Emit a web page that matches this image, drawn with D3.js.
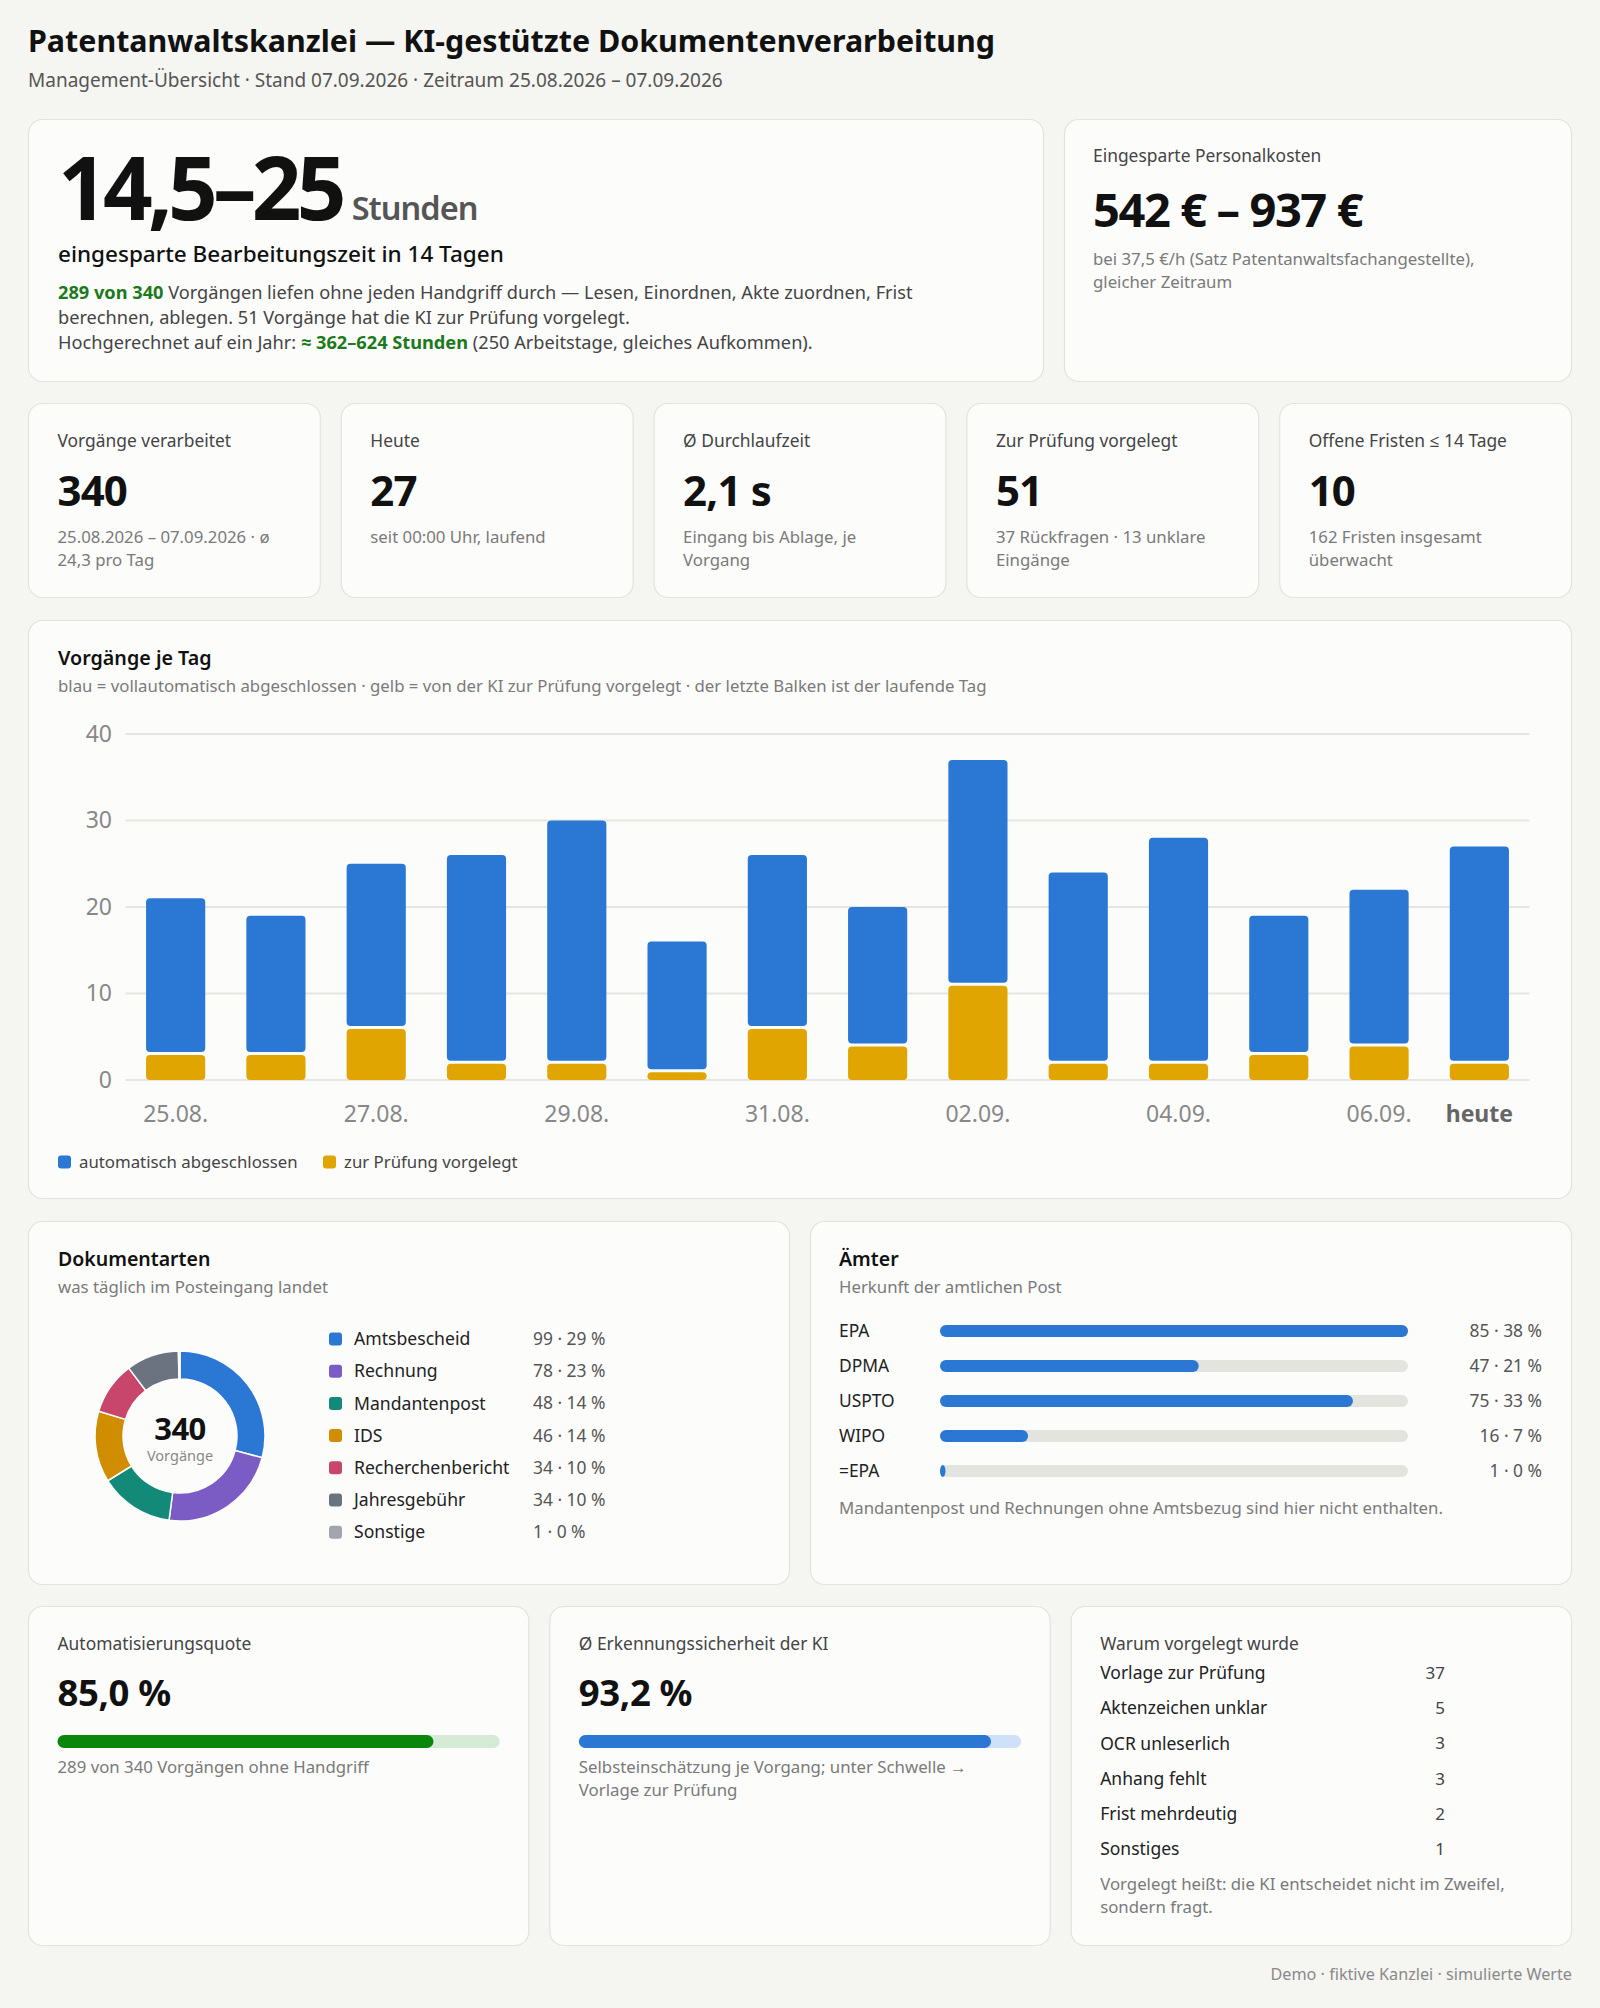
<!DOCTYPE html>
<html lang="de">
<head>
<meta charset="utf-8">
<title>Patentanwaltskanzlei — KI-gestützte Dokumentenverarbeitung</title>
<script src="https://cdn.jsdelivr.net/npm/d3@7"></script>
<style>
  html, body { margin: 0; padding: 0; background: #f5f5f2; }
  svg { display: block; font-family: "Noto Sans", "Open Sans", sans-serif; }
</style>
</head>
<body>
<svg id="board" width="1600" height="2008"></svg>
<script>
// ---- data ----
const dayLabels = ["25.08.", "26.08.", "27.08.", "28.08.", "29.08.", "30.08.", "31.08.",
  "01.09.", "02.09.", "03.09.", "04.09.", "05.09.", "06.09.", "heute"];
const autoCounts   = [18, 16, 19, 24, 28, 15, 20, 16, 26, 22, 26, 16, 18, 25];
const reviewCounts = [3, 3, 6, 2, 2, 1, 6, 4, 11, 2, 2, 3, 4, 2];
const yTicks = [0, 10, 20, 30, 40];

const kpiLabels = ["Vorgänge verarbeitet", "Heute", "Ø Durchlaufzeit", "Zur Prüfung vorgelegt", "Offene Fristen ≤ 14 Tage"];
const kpiValues = ["340", "27", "2,1 s", "51", "10"];
const kpiNotes = [
  ["25.08.2026 – 07.09.2026 · ø", "24,3 pro Tag"],
  ["seit 00:00 Uhr, laufend"],
  ["Eingang bis Ablage, je", "Vorgang"],
  ["37 Rückfragen · 13 unklare", "Eingänge"],
  ["162 Fristen insgesamt", "überwacht"]
];

const docTypes  = ["Amtsbescheid", "Rechnung", "Mandantenpost", "IDS", "Recherchenbericht", "Jahresgebühr", "Sonstige"];
const docCounts = [99, 78, 48, 46, 34, 34, 1];
const docColors = ["#2b78d4", "#7b5cc4", "#138a78", "#d08d00", "#c8456b", "#6b7280", "#a1a5ac"];

const offices      = ["EPA", "DPMA", "USPTO", "WIPO", "=EPA"];
const officeCounts = [85, 47, 75, 16, 1];

const reasons      = ["Vorlage zur Prüfung", "Aktenzeichen unklar", "OCR unleserlich", "Anhang fehlt", "Frist mehrdeutig", "Sonstiges"];
const reasonCounts = [37, 5, 3, 3, 2, 1];

const automationRate = 85.0;
const confidence = 93.2;

// ---- colours / sizes ----
const BLUE = "#2b78d4", YELLOW = "#e0a500", GREEN = "#0a870a", GREENDARK = "#1b7a1b";
const INK = "#111", LABEL = "#444", MUTED = "#7a7a7a";
const LBL = 17.4, NOTE = 16.8;

const svg = d3.select("#board");
const fmt = d3.format(",.1f");

function card(x, y, w, h) {
  svg.append("rect")
    .attr("x", x + 0.5).attr("y", y + 0.5)
    .attr("width", w - 1).attr("height", h - 1)
    .attr("rx", 14).attr("ry", 14)
    .style("fill", "#fcfcfb")
    .style("stroke", "#e2e2de")
    .style("stroke-width", 1.2);
}

function text(x, y, str, size, color, weight, anchor) {
  return svg.append("text")
    .attr("x", x).attr("y", y)
    .attr("dy", "0.35em")
    .attr("text-anchor", anchor || "start")
    .style("font-size", size + "px")
    .style("font-weight", weight || 400)
    .style("fill", color)
    .text(str);
}

// ---- header ----
text(28, 41, "Patentanwaltskanzlei — KI-gestützte Dokumentenverarbeitung", 30.4, INK, 700);
text(28, 80, "Management-Übersicht · Stand 07.09.2026 · Zeitraum 25.08.2026 – 07.09.2026", 19, "#555");

// ---- hero card ----
card(28, 119, 1016, 263);
const hero = svg.append("text").attr("x", 58).attr("y", 220);
hero.append("tspan")
  .style("font-size", "87px").style("font-weight", 700).style("fill", INK)
  .style("letter-spacing", "-0.055em")
  .text("14,5–25");
hero.append("tspan")
  .attr("dx", 10)
  .style("font-size", "32.5px").style("font-weight", 600).style("fill", "#555")
  .style("letter-spacing", "-0.03em")
  .text("Stunden");

text(58, 254, "eingesparte Bearbeitungszeit in 14 Tagen", 22.5, INK, 500);

const heroLines = [
  [["289 von 340", true], [" Vorgängen liefen ohne jeden Handgriff durch — Lesen, Einordnen, Akte zuordnen, Frist", false]],
  [["berechnen, ablegen. 51 Vorgänge hat die KI zur Prüfung vorgelegt.", false]],
  [["Hochgerechnet auf ein Jahr: ", false], ["≈ 362–624 Stunden", true], [" (250 Arbeitstage, gleiches Aufkommen).", false]]
];
heroLines.forEach((parts, i) => {
  const t = svg.append("text").attr("x", 58).attr("y", 293 + i * 25).attr("dy", "0.35em")
    .style("font-size", "18.2px").style("fill", LABEL);
  parts.forEach(p => {
    t.append("tspan")
      .style("font-weight", p[1] ? 700 : 400)
      .style("fill", p[1] ? GREENDARK : LABEL)
      .text(p[0]);
  });
});

// ---- cost card ----
card(1064, 119, 508, 263);
text(1093, 156, "Eingesparte Personalkosten", LBL, LABEL);
text(1093, 211, "542 € – 937 €", 47, INK, 700).style("letter-spacing", "-0.03em");
text(1093, 259, "bei 37,5 €/h (Satz Patentanwaltsfachangestellte),", NOTE, MUTED);
text(1093, 282, "gleicher Zeitraum", NOTE, MUTED);

// ---- KPI row ----
const kpiW = (1544 - 4 * 20) / 5;
kpiLabels.forEach((lab, i) => {
  const x = 28 + i * (kpiW + 20);
  card(x, 403, kpiW, 195);
  text(x + 29.5, 441, lab, LBL, LABEL);
  text(x + 29.5, 491, kpiValues[i], 42, INK, 700).style("letter-spacing", "-0.02em");
  kpiNotes[i].forEach((line, j) => text(x + 29.5, 537 + j * 23, line, NOTE, MUTED));
});

// ---- daily chart ----
card(28, 620, 1544, 579);
text(58, 658, "Vorgänge je Tag", 19.7, INK, 600);
text(58, 686, "blau = vollautomatisch abgeschlossen · gelb = von der KI zur Prüfung vorgelegt · der letzte Balken ist der laufende Tag", NOTE, MUTED);

const days = dayLabels.map((d, i) => ({ day: d, auto: autoCounts[i], review: reviewCounts[i] }));
const x = d3.scaleBand().domain(dayLabels).range([125.5, 1529.5]).paddingInner(0.41).paddingOuter(0.205);
const y = d3.scaleLinear().domain([0, 40]).range([1080, 734]);

const grid = svg.append("g");
grid.selectAll("line").data(yTicks).enter().append("line")
  .attr("x1", 125.5).attr("x2", 1529.5)
  .attr("y1", d => y(d)).attr("y2", d => y(d))
  .style("stroke", "#e5e5e2").style("stroke-width", 2);

const yAxis = svg.append("g").attr("transform", "translate(112,0)")
  .call(d3.axisLeft(y).tickValues(yTicks).tickSize(0).tickPadding(0));
yAxis.select(".domain").remove();
yAxis.selectAll("text")
  .style("font-family", "\"Noto Sans\", sans-serif")
  .style("font-size", "23px").style("fill", "#888");

const shownDays = dayLabels.filter((d, i) => i % 2 === 0 || i === dayLabels.length - 1);
const xAxis = svg.append("g").attr("transform", "translate(0,1105)")
  .call(d3.axisBottom(x).tickValues(shownDays).tickSize(0).tickPadding(0));
xAxis.select(".domain").remove();
xAxis.selectAll("text")
  .attr("dy", "0.72em")
  .style("font-family", "\"Noto Sans\", sans-serif")
  .style("font-size", "23px")
  .style("fill", d => d === "heute" ? "#666" : "#888")
  .style("font-weight", d => d === "heute" ? 700 : 400);

const stack = d3.stack().keys(["review", "auto"])(days);
const segColors = { review: YELLOW, auto: BLUE };
stack.forEach(layer => {
  svg.append("g").selectAll("rect").data(layer).enter().append("rect")
    .attr("x", d => x(d.data.day))
    .attr("width", x.bandwidth())
    .attr("y", d => y(d[1]) + (layer.key === "auto" ? 0 : 1))
    .attr("height", d => Math.max(0, y(d[0]) - y(d[1]) - 1 - (layer.key === "auto" ? 1 : 0)))
    .attr("rx", 4).attr("ry", 4)
    .style("fill", segColors[layer.key]);
});

const legendItems = [["automatisch abgeschlossen", BLUE, 58], ["zur Prüfung vorgelegt", YELLOW, 323]];
legendItems.forEach(l => {
  svg.append("rect").attr("x", l[2]).attr("y", 1162 - 6.5).attr("width", 13).attr("height", 13)
    .attr("rx", 3).style("fill", l[1]);
  text(l[2] + 21, 1162, l[0], NOTE, LABEL);
});

// ---- document types ----
card(28, 1221, 762, 364);
text(58, 1259, "Dokumentarten", 19.5, INK, 600);
text(58, 1287, "was täglich im Posteingang landet", NOTE, MUTED);

const docTotal = d3.sum(docCounts);
const pie = d3.pie().sort(null).value(d => d.count);
const arc = d3.arc().innerRadius(57).outerRadius(85);
const docs = docTypes.map((t, i) => ({ type: t, count: docCounts[i], color: docColors[i] }));
const donut = svg.append("g").attr("transform", "translate(180,1436)");
donut.selectAll("path").data(pie(docs)).enter().append("path")
  .attr("d", arc)
  .style("fill", d => d.data.color)
  .style("stroke", "#fcfcfb").style("stroke-width", 1.5);
donut.append("text").attr("y", -7).attr("text-anchor", "middle")
  .attr("dy", "0.35em")
  .style("font-size", "31px").style("font-weight", 700).style("fill", INK)
  .style("letter-spacing", "-0.02em")
  .text(docTotal);
donut.append("text").attr("y", 20).attr("text-anchor", "middle").attr("dy", "0.35em")
  .style("font-size", "14.5px").style("fill", "#888")
  .text("Vorgänge");

docs.forEach((d, i) => {
  const cy = 1339 + i * 32.2;
  svg.append("rect").attr("x", 329).attr("y", cy - 6.5).attr("width", 13).attr("height", 13)
    .attr("rx", 3).style("fill", d.color);
  text(354, cy, d.type, 17.6, "#222");
  text(533, cy, d.count + " · " + Math.round(d.count / docTotal * 100) + " %", LBL, "#555");
});

// ---- offices ----
card(810, 1221, 762, 364);
text(839, 1259, "Ämter", 19.5, INK, 600);
text(839, 1287, "Herkunft der amtlichen Post", NOTE, MUTED);

const officeTotal = d3.sum(officeCounts);
const ox = d3.scaleLinear().domain([0, d3.max(officeCounts)]).range([940, 1408]);
offices.forEach((o, i) => {
  const cy = 1331 + i * 35;
  text(839, cy, o, 17.4, "#222");
  svg.append("rect").attr("x", ox(0)).attr("y", cy - 6).attr("width", ox.range()[1] - ox(0)).attr("height", 12)
    .attr("rx", 6).style("fill", "#e4e4df");
  svg.append("rect").attr("x", ox(0)).attr("y", cy - 6).attr("width", Math.max(5, ox(officeCounts[i]) - ox(0))).attr("height", 12)
    .attr("rx", 6).style("fill", BLUE);
  text(1542, cy, officeCounts[i] + " · " + Math.round(officeCounts[i] / officeTotal * 100) + " %", LBL, "#555", 400, "end");
});
text(839, 1508, "Mandantenpost und Rechnungen ohne Amtsbezug sind hier nicht enthalten.", NOTE, MUTED);

// ---- bottom row ----
const botW = (1544 - 2 * 20) / 3;
const gauges = [
  { label: "Automatisierungsquote", value: automationRate, fill: GREEN, track: "#d5ebd5",
    notes: ["289 von 340 Vorgängen ohne Handgriff"] },
  { label: "Ø Erkennungssicherheit der KI", value: confidence, fill: BLUE, track: "#cfe1f8",
    notes: ["Selbsteinschätzung je Vorgang; unter Schwelle →", "Vorlage zur Prüfung"] }
];
gauges.forEach((g, i) => {
  const cx = 28 + i * (botW + 20);
  card(cx, 1606, botW, 340);
  text(cx + 29.5, 1644, g.label, LBL, LABEL);
  text(cx + 29.5, 1693, fmt(g.value).replace(".", ",") + " %", 36.5, INK, 700).style("letter-spacing", "-0.01em");
  const gx = d3.scaleLinear().domain([0, 100]).range([cx + 29.5, cx + botW - 29.5]);
  svg.append("rect").attr("x", gx(0)).attr("y", 1735).attr("width", gx(100) - gx(0)).attr("height", 13)
    .attr("rx", 6.5).style("fill", g.track);
  svg.append("rect").attr("x", gx(0)).attr("y", 1735).attr("width", gx(g.value) - gx(0)).attr("height", 13)
    .attr("rx", 6.5).style("fill", g.fill);
  g.notes.forEach((n, j) => text(cx + 29.5, 1767 + j * 23, n, NOTE, MUTED));
});

const rx0 = 28 + 2 * (botW + 20);
card(rx0, 1606, botW, 340);
text(rx0 + 29.5, 1644, "Warum vorgelegt wurde", LBL, LABEL);
reasons.forEach((r, i) => {
  const cy = 1673 + i * 35.2;
  text(rx0 + 29.5, cy, r, 17.5, "#222");
  text(1445, cy, reasonCounts[i], 17, "#444", 400, "end");
});
text(rx0 + 29.5, 1884, "Vorgelegt heißt: die KI entscheidet nicht im Zweifel,", NOTE, MUTED);
text(rx0 + 29.5, 1907, "sondern fragt.", NOTE, MUTED);

// ---- footer ----
text(1572, 1974, "Demo · fiktive Kanzlei · simulierte Werte", 16.2, "#8a8a8a", 400, "end");
</script>
</body>
</html>
